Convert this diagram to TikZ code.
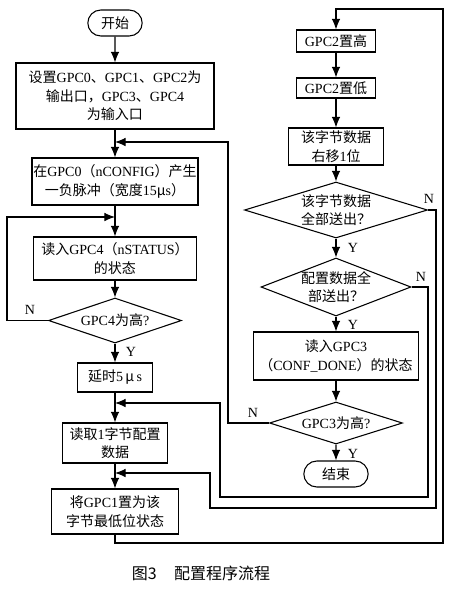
\documentclass[tikz,border=0pt]{standalone}
\usepackage{fontspec}
\setmainfont{Liberation Serif}
\newfontfamily\cjk{Noto Sans CJK SC}
\newcommand\zh[1]{{\cjk #1}}
\usetikzlibrary{shapes,arrows.meta}

\begin{document}
\begin{tikzpicture}[x=0.75pt,y=-0.75pt,line width=0.8pt,
  >={Latex[length=8pt,width=6.5pt]},
  every node/.style={font=\fontsize{10.5}{14}\selectfont},
  box/.style={draw,align=center,inner sep=1pt},
  term/.style={draw,rounded rectangle,inner sep=1pt,minimum height=19.5pt},
  test/.style={draw,diamond,align=center,inner sep=0pt,font=\fontsize{10.5}{13}\selectfont},
  yn/.style={inner sep=0pt}]
\useasboundingbox (0,0) rectangle (455,590);
% left column
\node[term,minimum width=42.75pt] (start) at (115,23) {\zh{开始}};
\node[box,minimum width=148.5pt,minimum height=49.5pt] (set) at (115,96)
  {\zh{设置}GPC0\zh{、}GPC1\zh{、}GPC2\zh{为}\\\zh{输出口，}GPC3\zh{、}GPC4\\\zh{为输入口}};
\node[box,minimum width=124.5pt,minimum height=35.25pt] (pulse) at (115,181.5)
  {\zh{在}GPC0\zh{（}nCONFIG\zh{）产生}\\\zh{一负脉冲（宽度}15\zh{μ}s\zh{）}};
\node[box,minimum width=122.25pt,minimum height=32.25pt] (readS) at (115,258.5)
  {\zh{读入}GPC4\zh{（}nSTATUS\zh{）}\\\zh{的状态}};
\node[test,aspect=3,minimum width=99.75pt,minimum height=33.75pt] (chk4) at (115,320.5)
  {GPC4\zh{为高}?};
\node[box,minimum width=56.25pt,minimum height=21.75pt] (delay) at (115,377.5)
  {\zh{延时}5\,\zh{μ}\,s};
\node[box,minimum width=78.75pt,minimum height=30pt] (readB) at (115,443)
  {\zh{读取}1\zh{字节配置}\\\zh{数据}};
\node[box,minimum width=95.25pt,minimum height=33.75pt] (setbit) at (115,511.5)
  {\zh{将}GPC1\zh{置为该}\\\zh{字节最低位状态}};
% right column
\node[box,minimum width=59.25pt,minimum height=16.5pt] (hi) at (336,41) {GPC2\zh{置高}};
\node[box,minimum width=59.25pt,minimum height=15pt] (lo) at (336,88) {GPC2\zh{置低}};
\node[box,minimum width=71.25pt,minimum height=27.75pt] (shift) at (336,146.5)
  {\zh{该字节数据}\\\zh{右移}1\zh{位}};
\node[test,aspect=3.3,minimum width=137.25pt,minimum height=42pt] (allbyte) at (336,210)
  {\zh{该字节数据}\\\zh{全部送出？}};
\node[test,aspect=2.6,minimum width=112.5pt,minimum height=43.5pt] (alldata) at (336,287)
  {\zh{配置数据全}\\\zh{部送出？}};
\node[box,minimum width=123.75pt,minimum height=36pt] (readC) at (336,356)
  {\zh{读入}GPC3\\\zh{（}CONF\_DONE\zh{）的状态}};
\node[test,aspect=3,minimum width=99.75pt,minimum height=31.5pt] (chk3) at (336,423)
  {GPC3\zh{为高}?};
\node[term,minimum width=50.25pt] (end) at (336,474) {\zh{结束}};
% join points
\coordinate (j1) at (115,142);
\coordinate (j2) at (115,217);
\coordinate (j3) at (115,403);
\coordinate (j4) at (115,473);
\coordinate (top) at (336,9);
% main flow
\draw[->] (start) -- (set);
\draw[->] (set) -- (pulse);
\draw[->] (pulse) -- (readS);
\draw[->] (readS) -- (chk4);
\draw[->] (chk4) -- (delay);
\draw[->] (delay) -- (readB);
\draw[->] (readB) -- (setbit);
\draw[->] (setbit.south) |- (443,543) |- (top) -- (hi);
\draw[->] (hi) -- (lo);
\draw[->] (lo) -- (shift);
\draw[->] (shift) -- (allbyte);
\draw[->] (allbyte) -- (alldata);
\draw[->] (alldata) -- (readC);
\draw[->] (readC) -- (chk3);
\draw[->] (chk3) -- (end);
% loops back
\draw[->] (chk4.west) -| (7,217) -- (j2);
\draw[->] (chk3.west) -| (228,142) -- (j1);
\draw[->] (alldata.east) -| (428,497) -| (220,403) -- (j3);
\draw[->] (allbyte.east) -| (436,508) -| (210,473) -- (j4);
% labels
\node[yn] (n4) at (30,310) {N};
\node[yn] (y4) at (131,352) {Y};
\node[yn] (nb) at (429,199) {N};
\node[yn] (yb) at (353,248) {Y};
\node[yn] (nd) at (421,277) {N};
\node[yn] (yd) at (353,325) {Y};
\node[yn] (n3) at (253,413) {N};
\node[yn] (y3) at (353,454) {Y};
\node[font=\cjk\fontsize{12}{14}\selectfont] (cap) at (201,573) {图3\hspace{13pt}配置程序流程};
\end{tikzpicture}
\end{document}
